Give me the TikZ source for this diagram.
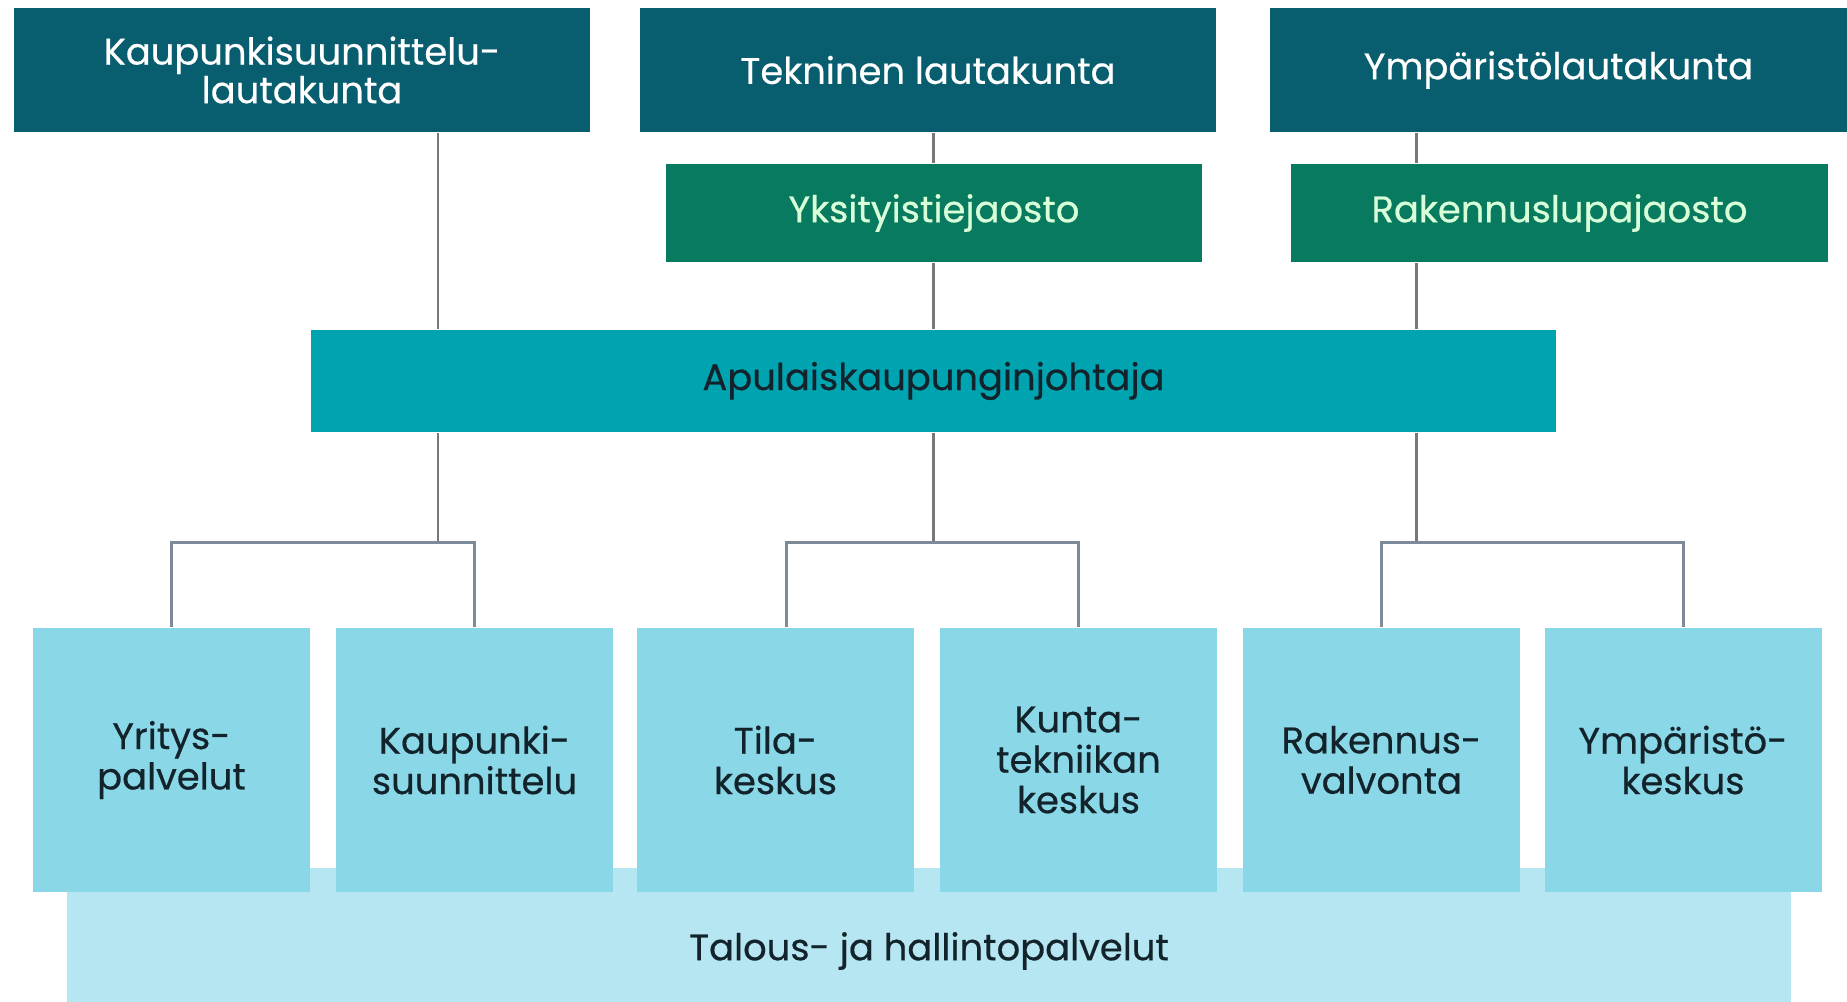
\documentclass[tikz,border=0pt]{standalone}
\usepackage{fontspec}
\setmainfont{Poppins}
\newfontfamily\medfont{Poppins}[FakeBold=0.5]
\usepackage{tikz}
\usetikzlibrary{positioning,calc}
\usepackage{xcolor}

\definecolor{boardteal}{RGB}{8,94,110}
\definecolor{sectgreen}{RGB}{8,122,96}
\definecolor{deputycyan}{RGB}{0,163,176}
\definecolor{unitblue}{RGB}{138,216,231}
\definecolor{adminblue}{RGB}{182,230,241}
\definecolor{linkgray}{RGB}{118,120,124}
\definecolor{forkgray}{RGB}{125,138,153}
\definecolor{darktext}{RGB}{19,35,43}

\begin{document}
\begin{tikzpicture}[
    board/.style={rectangle, fill=boardteal, text=white, minimum width=5.76cm, minimum height=1.24cm, inner sep=0pt, align=center, font=\medfont\fontsize{10.5}{11}\selectfont},
    sect/.style={rectangle, fill=sectgreen, text=white!85!green, minimum width=5.36cm, minimum height=0.98cm, inner sep=0pt, align=center, font=\medfont\fontsize{10.5}{11}\selectfont},
    deputy/.style={rectangle, fill=deputycyan, text=darktext, minimum width=12.45cm, minimum height=1.02cm, inner sep=0pt, align=center, font=\medfont\fontsize{10.5}{11}\selectfont},
    unitbox/.style={rectangle, fill=unitblue, text=darktext, minimum width=2.77cm, minimum height=2.64cm, inner sep=0pt, align=center, font=\medfont\fontsize{10.5}{11.5}\selectfont},
    admin/.style={rectangle, fill=adminblue, minimum width=17.24cm, minimum height=1.34cm, inner sep=0pt},
    link/.style={draw=linkgray, line width=0.85pt},
    fork/.style={draw=forkgray, line width=0.85pt}
]
\useasboundingbox (0,0) rectangle (18.47,10.02);

% lautakunnat
\node[board] (ksl) at (3.02,9.32) {Kaupunkisuunnittelu-\\lautakunta};
\node[board] (tek) at (9.28,9.32) {Tekninen lautakunta};
\node[board, minimum width=5.77cm] (ymp) at (15.585,9.32) {Ympäristölautakunta};

% jaostot
\node[sect] (yks) at (9.34,7.89) {Yksityistiejaosto};
\node[sect, minimum width=5.37cm] (rak) at (15.595,7.89) {Rakennuslupajaosto};

\node[deputy] (apu) at (9.335,6.21) {Apulaiskaupunginjohtaja};

% palvelut
\node[admin] (tal) at (9.29,0.67) {};
\node[text=darktext, font=\medfont\fontsize{10.5}{11}\selectfont] (tal-t) at ([yshift=-0.16cm]tal.center) {Talous- ja hallintopalvelut};

\node[unitbox] (yri) at (1.715,2.42) {Yritys-\\palvelut};
\node[unitbox] (kau) at (4.745,2.42) {Kaupunki-\\suunnittelu};
\node[unitbox] (til) at (7.755,2.42) {Tila-\\keskus};
\node[unitbox] (kun) at (10.785,2.42) {Kunta-\\tekniikan\\keskus};
\node[unitbox] (rva) at (13.815,2.42) {Rakennus-\\valvonta};
\node[unitbox] (ymk) at (16.83,2.42) {Ympäristö-\\keskus};

\coordinate (f1) at (4.38,4.59);
\coordinate (f2) at (9.33,4.59);
\coordinate (f3) at (14.16,4.59);

% ylempi taso
\draw[link] (ksl.south -| f1) -- (apu.north -| f1);
\draw[link] (tek.south -| f2) -- (yks.north -| f2);
\draw[link] (yks.south -| f2) -- (apu.north -| f2);
\draw[link] (ymp.south -| f3) -- (rak.north -| f3);
\draw[link] (rak.south -| f3) -- (apu.north -| f3);

% alempi taso
\draw[link] (apu.south -| f1) -- (f1);
\draw[link] (apu.south -| f2) -- (f2);
\draw[link] (apu.south -| f3) -- (f3);
\draw[fork] (yri.north) |- (f1) -| (kau.north);
\draw[fork] ([xshift=0.11cm]til.north) |- (f2) -| (kun.north);
\draw[fork] (rva.north) |- (f3) -| (ymk.north);
\end{tikzpicture}
\end{document}
